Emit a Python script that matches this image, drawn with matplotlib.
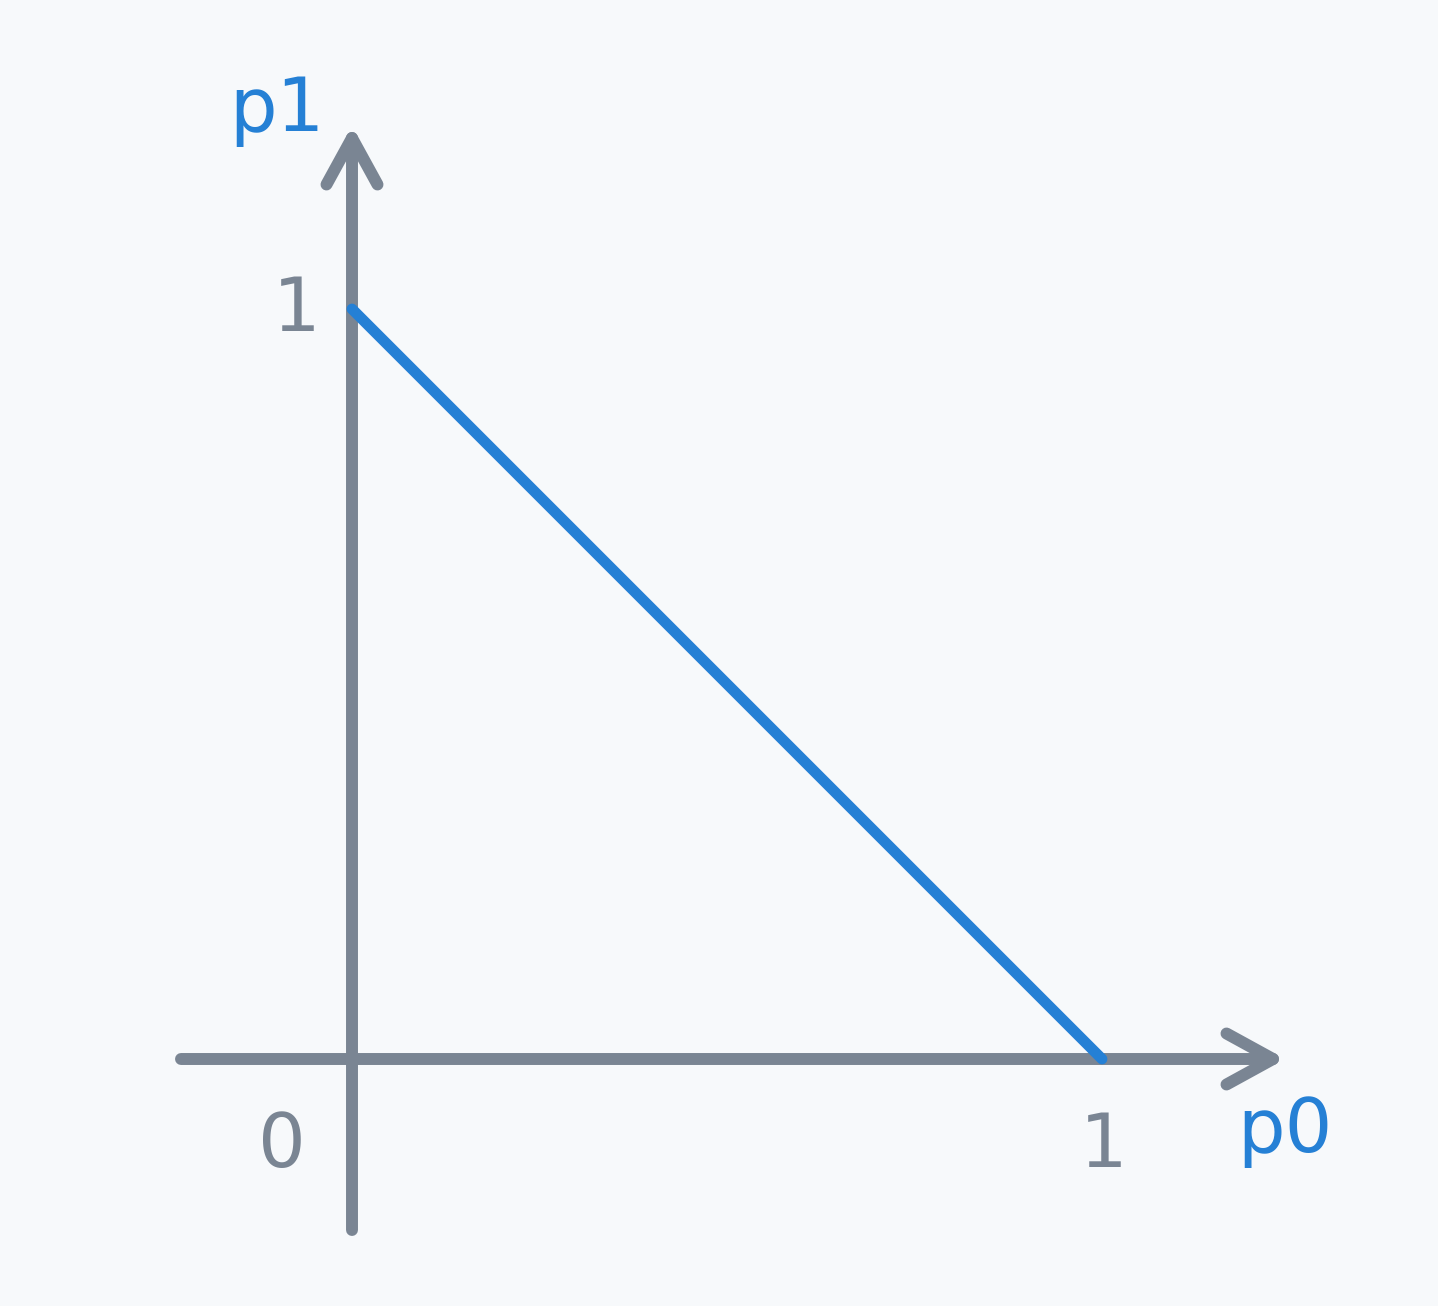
import matplotlib
matplotlib.use("Agg")
import matplotlib.pyplot as plt

# simplex line p0 + p1 = 1
p0_values = [0, 1]
p1_values = [1, 0]

tick_values = [0, 1]
axis_labels = ["p0", "p1"]
axis_extent = [-0.228, 1.228]

bg = "#F7F9FB"
gray = "#7A8593"
blue = "#2580D5"

plt.rcParams['font.family'] = ['DejaVu Sans']

fig = plt.figure(figsize=(14.38, 13.06), dpi=100, facecolor=bg)
ax = fig.add_axes([0, 0, 1, 1])
ax.set_facecolor(bg)
ax.set_xlim(-352 / 750, (1438 - 352) / 750)
ax.set_ylim(-(1306 - 1059) / 750, 1059 / 750)
ax.axis("off")

lw_axis = 8.6
line_kw = dict(color=gray, lw=lw_axis, solid_capstyle="round", solid_joinstyle="round")

lo, hi = axis_extent
# axes
ax.plot([lo, hi], [0, 0], **line_kw)
ax.plot([0, 0], [lo, hi], **line_kw)

# arrow heads
head_len, head_half = 0.062, 0.034
ax.plot([hi - head_len, hi, hi - head_len], [head_half, 0, -head_half], **line_kw)
ax.plot([-head_half, 0, head_half], [hi - head_len, hi, hi - head_len], **line_kw)

# the line
ax.plot(p0_values, p1_values, color=blue, lw=7.8, solid_capstyle="round")

px = 0.72  # pixels -> points
fs = 54
ax.annotate(str(tick_values[1]), (0, tick_values[1]), xytext=(-55 * px, -22 * px),
            textcoords="offset points", ha="center", va="baseline", fontsize=fs, color=gray)
ax.annotate(str(tick_values[0]), (0, 0), xytext=(-70 * px, -108 * px),
            textcoords="offset points", ha="center", va="baseline", fontsize=fs, color=gray)
ax.annotate(str(tick_values[1]), (tick_values[1], 0), xytext=(2 * px, -108 * px),
            textcoords="offset points", ha="center", va="baseline", fontsize=fs, color=gray)

ax.annotate(axis_labels[0], (hi, 0), xytext=(12 * px, -93 * px),
            textcoords="offset points", ha="center", va="baseline", fontsize=fs, color=blue)
ax.annotate(axis_labels[1], (0, hi), xytext=(-75 * px, 7 * px),
            textcoords="offset points", ha="center", va="baseline", fontsize=fs, color=blue)

fig.savefig("out.png", dpi=100, facecolor=bg)
